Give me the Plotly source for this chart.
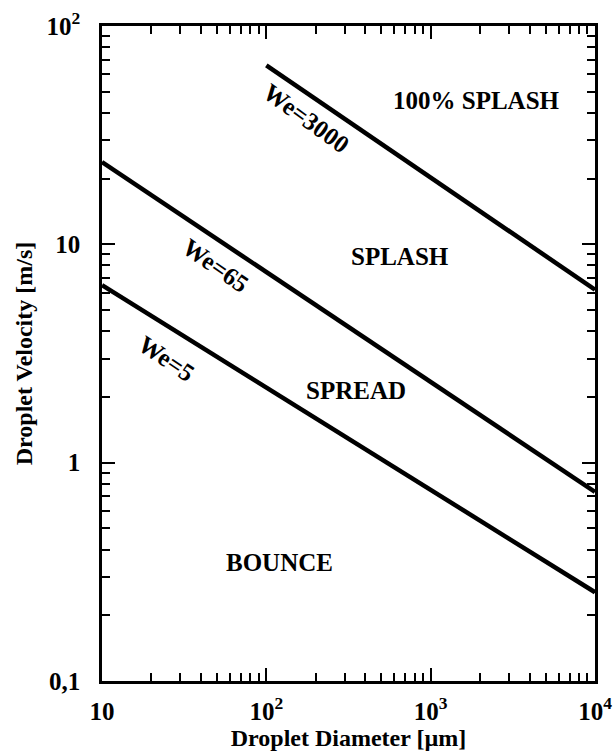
import plotly.graph_objects as go

# Weber-number boundaries: droplet diameter [µm] vs velocity [m/s]
d_we5 = [10, 10000]
v_we5 = [6.5, 0.255]
d_we65 = [10, 10000]
v_we65 = [23.8, 0.735]
d_we3000 = [100, 10000]
v_we3000 = [66, 6.2]

x_tickvals = [10, 100, 1000, 10000]
x_ticktext = ["10", "10<sup>2</sup>", "10<sup>3</sup>", "10<sup>4</sup>"]
y_tickvals = [0.1, 1, 10, 100]
y_ticktext = ["0,1", "1", "10", "10<sup>2</sup>"]

x_minor = [m * 10 ** e for e in (1, 2, 3) for m in range(2, 10)]
y_minor = [m * 10 ** e for e in (-1, 0, 1) for m in range(2, 10)]

SERIF = "Liberation Serif"

fig = go.Figure()
for d, v in ((d_we5, v_we5), (d_we65, v_we65), (d_we3000, v_we3000)):
    fig.add_trace(go.Scatter(x=d, y=v, mode="lines",
                             line=dict(color="black", width=4.5),
                             showlegend=False, hoverinfo="skip"))

axis_common = dict(
    type="log", automargin=False,
    showline=True, linecolor="black", linewidth=2.5, mirror="ticks",
    ticks="inside", ticklen=13, tickwidth=2, tickcolor="black",
    showgrid=False, zeroline=False,
    tickfont=dict(family=SERIF, size=25, color="black", weight="bold"),
    minor=dict(ticks="inside", ticklen=8, tickwidth=2, tickcolor="black",
               showgrid=False),
)

fig.update_xaxes(**axis_common, range=[1, 4], tickmode="array",
                 tickvals=x_tickvals, ticktext=x_ticktext,
                 ticklabelstandoff=6,
                 title=dict(text="Droplet Diameter [µm]", standoff=0,
                            font=dict(family=SERIF, size=24, color="black",
                                      weight="bold")))
fig.update_xaxes(minor_tickvals=x_minor)
fig.update_yaxes(**axis_common, range=[-1, 2], tickmode="array",
                 tickvals=y_tickvals, ticktext=y_ticktext,
                 ticklabelstandoff=14,
                 title=dict(text="Droplet Velocity [m/s]", standoff=8,
                            font=dict(family=SERIF, size=24, color="black",
                                      weight="bold")))
fig.update_yaxes(minor_tickvals=y_minor)

label_font = dict(family=SERIF, size=25, color="black", weight="bold")
regions = [
    ("100% SPLASH", 3.276, 1.660),
    ("SPLASH", 2.813, 0.946),
    ("SPREAD", 2.545, 0.332),
    ("BOUNCE", 2.082, -0.455),
]
for text, xl, yl in regions:
    fig.add_annotation(x=xl, y=yl, text=text, showarrow=False, font=label_font)

we_labels = [
    ("We=3000", 2.246, 1.578, 36),
    ("We=65", 1.692, 0.905, 35),
    ("We=5", 1.393, 0.479, 34),
]
for text, xl, yl, ang in we_labels:
    fig.add_annotation(x=xl, y=yl, text=text, showarrow=False,
                       textangle=ang, font=label_font)

fig.update_layout(
    width=616, height=752,
    margin=dict(l=102, r=21, t=26, b=71),
    paper_bgcolor="white", plot_bgcolor="white",
)

fig.write_html("out.html")
